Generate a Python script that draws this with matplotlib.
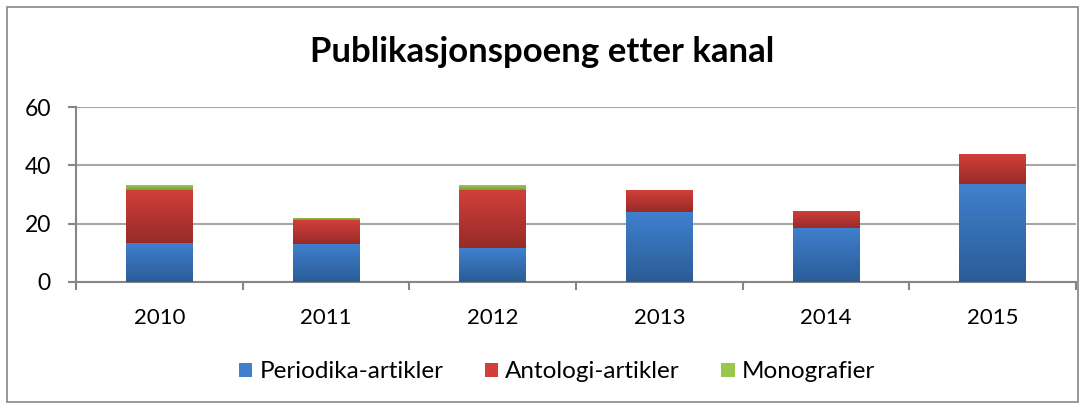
import numpy as np
import matplotlib
matplotlib.use("Agg")
import matplotlib.pyplot as plt
import matplotlib.colors as mcolors
from matplotlib.patches import Rectangle

years = ["2010", "2011", "2012", "2013", "2014", "2015"]
periodika = [13.5, 13.1, 11.5, 23.9, 18.6, 33.6]
antologi = [18.2, 8.0, 20.0, 7.8, 5.9, 10.2]
monografier = [1.4, 1.0, 1.6, 0.0, 0.0, 0.0]

series_names = ["Periodika-artikler", "Antologi-artikler", "Monografier"]
# (top colour, bottom colour) for the vertical gradient
grad = [("#3F80CE", "#2B5C97"), ("#D23F3B", "#982B28"), ("#9BC74C", "#76A038")]

plt.rcParams['font.family'] = ['Lato', 'DejaVu Sans']

fig = plt.figure(figsize=(10.85, 4.05), dpi=100)
fig.patches.append(Rectangle((7 / 1085, 1 - 402 / 405), 1071 / 1085, 395 / 405,
                             transform=fig.transFigure, fill=False,
                             edgecolor="#868686", linewidth=1.2))
ax = fig.add_axes([76 / 1085, 1 - 282 / 405, 1000 / 1085, 175 / 405])

x = np.arange(len(years))
bottoms = np.zeros(len(years))
for vals, name, (c_top, c_bot) in zip([periodika, antologi, monografier], series_names, grad):
    bars = ax.bar(x, vals, width=0.4, bottom=bottoms, color=c_top, label=name, zorder=3)
    cmap = mcolors.LinearSegmentedColormap.from_list(name, [c_bot, c_top])
    for b in bars:
        if b.get_height() <= 0:
            continue
        bx, by = b.get_x(), b.get_y()
        w, h = b.get_width(), b.get_height()
        im = ax.imshow(np.linspace(0, 1, 64).reshape(-1, 1), cmap=cmap, origin="lower",
                       extent=[bx, bx + w, by, by + h], aspect="auto", zorder=3.5)
        im.set_clip_path(b)
    bottoms += np.array(vals)

ax.set_xlim(-0.5, len(years) - 0.5)
ax.set_ylim(0, 60)
ax.set_yticks([0, 20, 40, 60])
ax.set_xticks(x)
ax.set_xticklabels(years)
ax.set_xticks(np.arange(-0.5, len(years) + 0.5, 1), minor=True)
ax.tick_params(axis="x", which="major", length=0, pad=19, labelsize=16)
ax.tick_params(axis="x", which="minor", length=6, color="#868686", width=1.5)
ax.tick_params(axis="y", length=6, color="#868686", width=1.5, labelsize=16.5, pad=12)
ax.grid(axis="y", color="#A6A6A6", linewidth=1.5, zorder=0)
for s in ["top", "right"]:
    ax.spines[s].set_visible(False)
for s in ["left", "bottom"]:
    ax.spines[s].set_color("#868686")
    ax.spines[s].set_linewidth(1.5)

fig.text(0.5, 1 - 52 / 405, "Publikasjonspoeng etter kanal", ha="center", va="center",
         fontsize=25, fontweight="bold")
fig.legend(loc="center", bbox_to_anchor=(557 / 1085, 1 - 372 / 405), ncol=3, frameon=False,
           fontsize=17.5, handlelength=0.55, handleheight=0.55, handletextpad=0.3,
           columnspacing=1.7)

fig.savefig("out.png", dpi=100)
